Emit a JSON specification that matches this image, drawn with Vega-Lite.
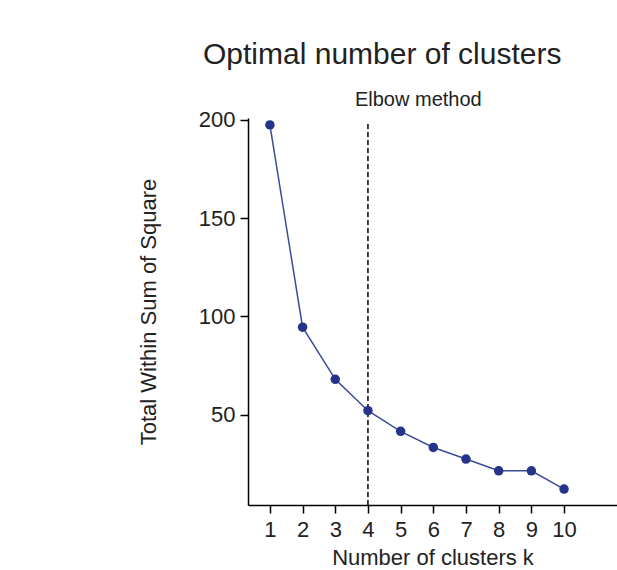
{
  "$schema": "https://vega.github.io/schema/vega-lite/v6.json",
  "width": 369,
  "height": 387,
  "autosize": "none",
  "padding": {"left": 248, "top": 118, "right": 0, "bottom": 65},
  "background": "white",
  "config": {
    "view": {"stroke": null},
    "font": "Liberation Sans",
    "axis": {
      "domainColor": "black",
      "domainWidth": 1.5,
      "tickColor": "black",
      "tickWidth": 1.5,
      "tickSize": 8,
      "labelFont": "Liberation Sans",
      "labelFontSize": 22,
      "labelColor": "#222222",
      "titleFont": "Liberation Sans",
      "titleFontSize": 22,
      "titleFontWeight": "normal",
      "titleColor": "#222222",
      "grid": false
    }
  },
  "title": {
    "text": "Optimal number of clusters",
    "font": "Liberation Sans",
    "fontSize": 30,
    "fontWeight": "normal",
    "color": "#222222",
    "anchor": "start",
    "frame": "group",
    "dx": -45,
    "offset": 20
  },
  "datasets": {
    "wss": [
      {"k": 1, "wss": 197.5},
      {"k": 2, "wss": 94.5},
      {"k": 3, "wss": 68},
      {"k": 4, "wss": 52},
      {"k": 5, "wss": 41.5},
      {"k": 6, "wss": 33.3},
      {"k": 7, "wss": 27.4},
      {"k": 8, "wss": 21.4},
      {"k": 9, "wss": 21.4},
      {"k": 10, "wss": 12.1}
    ],
    "elbow": [
      {"k": 4, "top": 198, "bottom": 4, "labelY": 210, "label": "Elbow method"}
    ]
  },
  "layer": [
    {
      "data": {"name": "elbow"},
      "mark": {"type": "rule", "strokeDash": [5, 3], "strokeWidth": 1.5, "color": "black"},
      "encoding": {
        "x": {"field": "k", "type": "quantitative"},
        "y": {"field": "top", "type": "quantitative"},
        "y2": {"field": "bottom"}
      }
    },
    {
      "data": {"name": "wss"},
      "mark": {"type": "line", "color": "#3d4a98", "strokeWidth": 1.5},
      "encoding": {
        "x": {"field": "k", "type": "quantitative"},
        "y": {"field": "wss", "type": "quantitative"}
      }
    },
    {
      "data": {"name": "wss"},
      "mark": {"type": "point", "filled": true, "color": "#25338a", "size": 90, "opacity": 1},
      "encoding": {
        "x": {"field": "k", "type": "quantitative"},
        "y": {"field": "wss", "type": "quantitative"}
      }
    },
    {
      "data": {"name": "elbow"},
      "mark": {"type": "text", "fontSize": 20, "align": "left", "baseline": "middle", "dx": -13, "color": "#222222", "clip": false},
      "encoding": {
        "x": {"field": "k", "type": "quantitative"},
        "y": {"field": "labelY", "type": "quantitative"},
        "text": {"field": "label"}
      }
    }
  ],
  "resolve": {"scale": {"x": "shared", "y": "shared"}},
  "encoding": {
    "x": {
      "field": "k",
      "type": "quantitative",
      "scale": {"domain": [0.33, 11.62], "nice": false, "zero": false},
      "axis": {"values": [1,2,3,4,5,6,7,8,9,10], "title": "Number of clusters k", "labelPadding": 6, "titlePadding": 7}
    },
    "y": {
      "field": "wss",
      "type": "quantitative",
      "scale": {"domain": [4, 201], "nice": false, "zero": false},
      "axis": {"values": [50,100,150,200], "title": "Total Within Sum of Square", "labelPadding": 5, "titlePadding": 38}
    }
  }
}
